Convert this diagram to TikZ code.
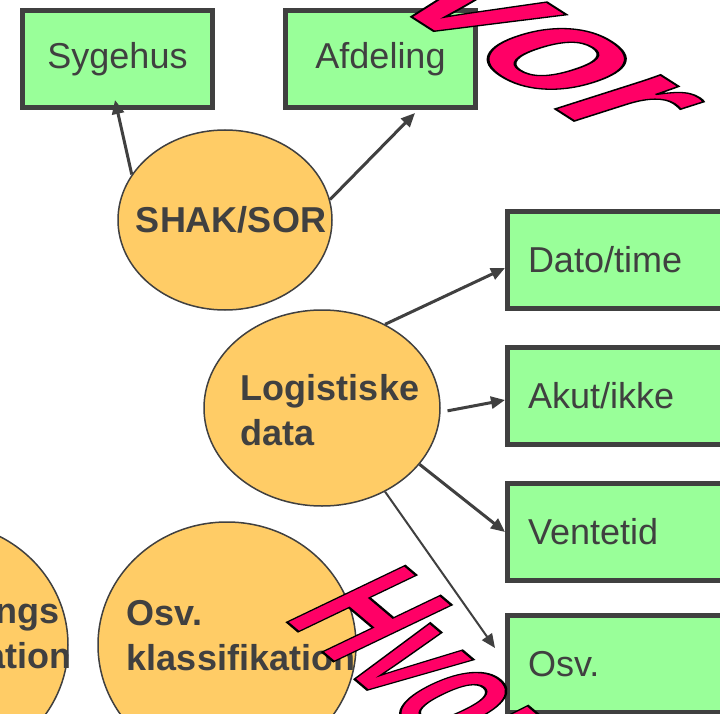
\documentclass[tikz,border=0pt]{standalone}
\usepackage{fontspec}
\setmainfont{Liberation Sans}
\setsansfont{Liberation Sans}
\usepackage{xcolor}
\usepackage{tikz}
\usetikzlibrary{shapes.geometric,arrows.meta,positioning,calc}
\definecolor{boxgreen}{HTML}{99FF99}
\definecolor{ringorange}{HTML}{FFCC66}
\definecolor{linegray}{HTML}{404040}
\definecolor{hvorpink}{HTML}{FF0066}
% fill + black outline for the slanted words
\newcommand{\omridset}[1]{\special{pdf:literal 2 Tr 2.5 w 0 G}#1\special{pdf:literal 0 Tr}}

\begin{document}
\begin{tikzpicture}[x=1pt, y=-1pt, font=\sffamily\fontsize{36}{45}\selectfont, text=linegray,
  feltboks/.style={draw=linegray, line width=5pt, fill=boxgreen, minimum width=190pt, minimum height=97pt, inner sep=0pt},
  hoejreboks/.style={feltboks, minimum width=230pt, text width=189pt, align=left, inner xsep=20.5pt},
  ring/.style={ellipse, draw=linegray, line width=1.5pt, fill=ringorange, inner sep=0pt},
  ringtekst/.style={inner sep=0pt, font=\sffamily\bfseries\fontsize{36}{45}\selectfont},
  pil/.style={draw=linegray, line width=3pt, -{Triangle[length=14pt,width=12pt]}},
  hvortekst/.style={transform shape, inner sep=0pt, text=hvorpink, anchor=base west}]
  \useasboundingbox (0,0) rectangle (720,714);
  \fill[white] (0,0) rectangle (720,714);
  \clip (0,0) rectangle (720,714);

  % top boxes
  \node[feltboks] (sygehus) at (117.5,59) {Sygehus};
  \node[feltboks] (afdeling) at (380.5,59) {Afdeling};

  % right column
  \node[hoejreboks] (dato) at (622.5,260) {Dato/time};
  \node[hoejreboks] (akut) at (622.5,396) {Akut/ikke};
  \node[hoejreboks] (ventetid) at (622.5,532) {Ventetid};
  \node[hoejreboks] (osvboks) at (622.5,664) {Osv.};

  % circles
  \node[ring, minimum width=214pt, minimum height=180pt] (shak) at (225,220) {};
  \node[ringtekst] (shaktekst) at (231,220) {SHAK/SOR};
  \node[ring, minimum width=236pt, minimum height=196pt] (logistik) at (322,408) {};
  \node[ringtekst, align=left] (logistiktekst) at (330,410) {Logistiske\\data};
  \node[ring, minimum width=258pt, minimum height=246pt] (henvring) at (-61,645) {};
  \node[ringtekst, align=right, anchor=east] (henvtekst) at (72,636) {ngs\rule{12pt}{0pt}\\ation};
  \node[ring, minimum width=258pt, minimum height=246pt] (klassring) at (227,645) {};
  \node[ringtekst, align=left] (klasstekst) at (241,636) {Osv.\\klassifikation};

  % arrows
  \draw[pil] (shak.154) -- ([xshift=-2.5pt, yshift=10pt]sygehus.south);
  \draw[pil] (shak.11) -- ([xshift=34.5pt, yshift=-3pt]afdeling.south);
  \draw[pil] (logistik.53) -- ([yshift=-8pt]dato.west);
  \draw[pil, shorten <=7pt] (logistik.-2) -- ([yshift=-4pt]akut.west);
  \draw[pil] (logistik.-30) -- (ventetid.west);
  \draw[pil, line width=2pt] (logistik.-53) -- ([xshift=-10pt, yshift=16pt]osvboks.west);

  % WordArt
  \node[hvortekst, font=\sffamily\bfseries\fontsize{210}{210}\selectfont, rotate=-72.3, yslant=0.83, xscale=0.6] (hvoroppe) at (285,-64)
    {\omridset{Hvor}};
  \node[hvortekst, font=\sffamily\bfseries\fontsize{190}{190}\selectfont, rotate=-64.4, yslant=0.45, xscale=0.5] (hvornede) at (281.6,617.5)
    {\omridset{Hvor}};
\end{tikzpicture}
\end{document}
